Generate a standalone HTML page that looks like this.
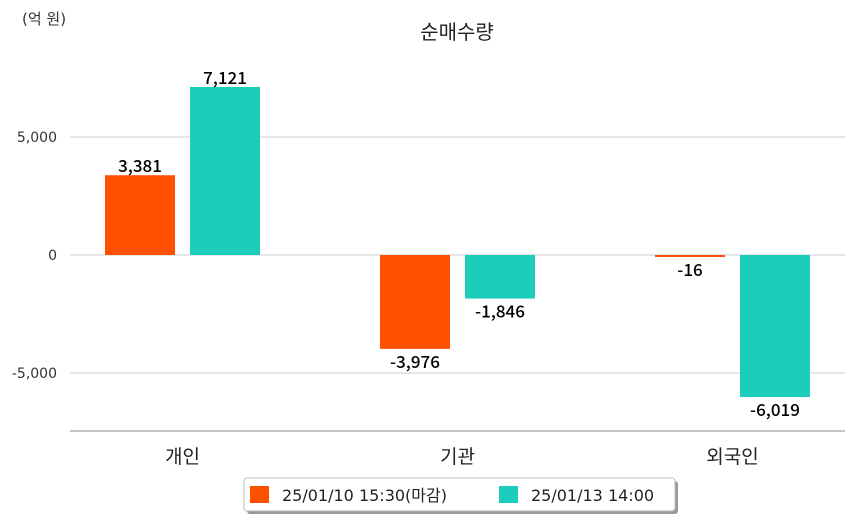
<!DOCTYPE html>
<html><head><meta charset="utf-8"><style>
body{margin:0;background:#fff;width:854px;height:520px;overflow:hidden;font-family:"DejaVu Sans","Noto Sans CJK KR",sans-serif}
svg text{font-family:"DejaVu Sans","Noto Sans CJK KR",sans-serif}
svg text.val{font-family:"Noto Sans CJK KR",sans-serif;font-weight:500}
</style></head><body>
<svg id="chart" width="854" height="520">
<text x="22" y="24" font-size="15" fill="#333">(억 원)</text>
<text x="457" y="39" font-size="20" fill="#222" text-anchor="middle">순매수량</text>
<g id="grid"></g><g id="bars"></g>
<line x1="70" y1="431" x2="845" y2="431" stroke="#888" stroke-width="1"/>
<g>
<rect x="247" y="481" width="431" height="33" rx="3" fill="#999"/>
<rect x="244" y="478" width="431" height="33" rx="3" fill="#fff" stroke="#bbb"/>
<rect x="250" y="486" width="19" height="17" fill="#ff5000"/>
<text x="282" y="501" font-size="16" fill="#222">25/01/10 15:30(마감)</text>
<rect x="499" y="486" width="19" height="17" fill="#1ccdbc"/>
<text x="531" y="501" font-size="16" fill="#222">25/01/13 14:00</text>
</g>
</svg>
<script>
const categories=["개인","기관","외국인"];
const series1=[3381,-3976,-16];
const series2=[7121,-1846,-6019];
const ticks=[5000,0,-5000];
const tickLabels=["5,000","0","-5,000"];
const NS="http://www.w3.org/2000/svg";
const y=v=>255-v*118/5000;
const catX=i=>70+275*i+112.5;
function mk(t,a,p){const e=document.createElementNS(NS,t);for(const k in a)e.setAttribute(k,a[k]);p.appendChild(e);return e;}
const grid=document.getElementById('grid'),bars=document.getElementById('bars');
ticks.forEach((t,i)=>{
 const l=mk('line',{x1:70,x2:845,y1:y(t),y2:y(t),stroke:'#ccc'},grid);
 
 
 const tx=mk('text',{x:57,y:y(t)+5,'font-size':14,fill:'#333','text-anchor':'end'},grid);
 tx.textContent=tickLabels[i];
 
 
});
const fmt=v=>(v<0?'-':'')+Math.abs(v).toLocaleString('en-US');
categories.forEach((c,i)=>{
 const cx=catX(i);
 [[series1,'#ff5000',-77.5],[series2,'#1ccdbc',7.5]].forEach(([s,col,off],j)=>{
  const v=s[i],y0=y(0),y1=y(v);
  const r=mk('rect',{x:cx+off,y:Math.min(y0,y1),width:70,height:Math.max(Math.abs(y1-y0),2),fill:col},bars);
  
  
  const ly=v>=0?y1-3:Math.max(y1,y0+2)+19;
  const t=mk('text',{x:cx+off+35,y:ly,'font-size':17,'class':'val',fill:'#000','text-anchor':'middle'},bars);
  t.textContent=fmt(v);
  
  
 });
 const t=mk('text',{x:cx,y:463,'font-size':19,fill:'#222','text-anchor':'middle'},bars);
 t.textContent=c;
 
 
});
</script>
</body></html>
